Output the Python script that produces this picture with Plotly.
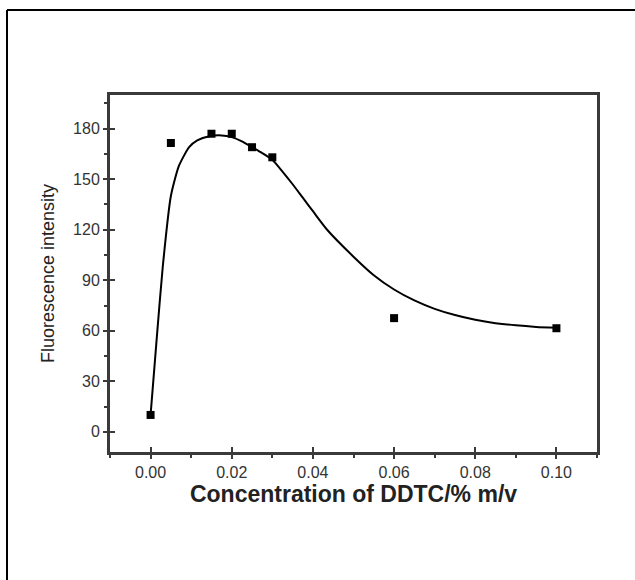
import plotly.graph_objects as go

# Measured data points
conc = [0.0, 0.005, 0.015, 0.02, 0.025, 0.03, 0.06, 0.10]
intensity = [10, 171.5, 177, 177, 169, 163, 67.5, 61.5]

# Fitted curve
curve_x = [0.0, 0.0015, 0.003, 0.005, 0.007, 0.0095, 0.0115, 0.0145, 0.0175, 0.02,
           0.0225, 0.025, 0.0275, 0.03, 0.0325, 0.035, 0.0375, 0.04, 0.0435, 0.05,
           0.055, 0.06, 0.065, 0.07, 0.075, 0.08, 0.085, 0.09, 0.095, 0.10]
curve_y = [10, 55, 98, 140, 158, 169, 173, 175.5, 176, 175,
           172.5, 169, 165.5, 161.5, 154.5, 147, 139, 131, 120, 104,
           93, 84.5, 78, 73, 69.3, 66.5, 64.5, 63.2, 62.3, 61.8]

x_ticks = [0.0, 0.02, 0.04, 0.06, 0.08, 0.10]
x_labels = ["0.00", "0.02", "0.04", "0.06", "0.08", "0.10"]
y_ticks = [0, 30, 60, 90, 120, 150, 180]

W, H = 635, 580
L, R, T, B = 110, 38, 95, 128
pw, ph = W - L - R, H - T - B

fig = go.Figure()
fig.add_trace(go.Scatter(x=curve_x, y=curve_y, mode="lines",
                         line=dict(color="black", width=2, shape="spline", smoothing=0.6),
                         showlegend=False, hoverinfo="skip"))
fig.add_trace(go.Scatter(x=conc, y=intensity, mode="markers",
                         marker=dict(symbol="square", size=8, color="black"),
                         showlegend=False))
# invisible trace for overlay axes
fig.add_trace(go.Scatter(x=[None], y=[None], xaxis="x2", yaxis="y2", showlegend=False))

axis_color = "#3a3a3a"
xr = [-0.01, 0.11]
yr = [-12, 200]
font_fam = "Liberation Sans, Arial, sans-serif"
tickfont = dict(family=font_fam, size=16, color="#333333")

fig.update_layout(
    width=W, height=H,
    margin=dict(l=L, r=R, t=T, b=B),
    paper_bgcolor="white", plot_bgcolor="white",
    xaxis=dict(range=xr, tickvals=x_ticks, ticktext=x_labels, ticks="outside",
               ticklen=4, tickwidth=2, tickcolor=axis_color,
               showline=True, linewidth=3, linecolor=axis_color, mirror=True,
               showgrid=False, zeroline=False, tickfont=tickfont,
               minor=dict(dtick=0.01, ticks="outside", ticklen=3, tickwidth=1.5, tickcolor=axis_color),
               title=dict(text="<b>Concentration of DDTC/% m/v</b>",
                          font=dict(family=font_fam, size=23, color="#222222"),
                          standoff=6)),
    yaxis=dict(range=yr, tickvals=y_ticks, ticks="outside",
               ticklen=4, tickwidth=2, tickcolor=axis_color,
               showline=True, linewidth=3, linecolor=axis_color, mirror=True,
               showgrid=False, zeroline=False, tickfont=tickfont,
               minor=dict(dtick=15, ticks="outside", ticklen=3, tickwidth=1.5, tickcolor=axis_color),
               title=dict(text="Fluorescence intensity",
                          font=dict(family=font_fam, size=18, color="#222222"),
                          standoff=14)),
    xaxis2=dict(range=xr, overlaying="x", tickvals=x_ticks, ticks="inside", ticklen=5,
                tickwidth=2, tickcolor=axis_color, showticklabels=False, showgrid=False,
                zeroline=False, showline=False),
    yaxis2=dict(range=yr, overlaying="y", tickvals=y_ticks, ticks="inside", ticklen=5,
                tickwidth=2, tickcolor=axis_color, showticklabels=False, showgrid=False,
                zeroline=False, showline=False),
)

# outer frame lines (top and left) of the figure image
x_left = (7 - L) / pw
x_right = (W - L) / pw
y_top = (H - B - 10) / ph
y_bottom = -B / ph
fig.add_shape(type="line", xref="paper", yref="paper", x0=x_left, x1=x_right,
              y0=y_top, y1=y_top, line=dict(color="black", width=2))
fig.add_shape(type="line", xref="paper", yref="paper", x0=x_left, x1=x_left,
              y0=y_bottom, y1=y_top, line=dict(color="black", width=2))

fig.write_html("out.html")
